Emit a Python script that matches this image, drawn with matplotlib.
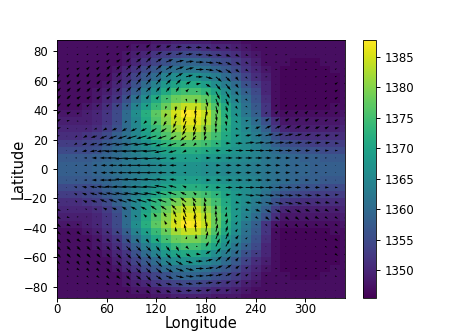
import numpy as np
import matplotlib
matplotlib.use('Agg')
import matplotlib.pyplot as plt

lon = np.arange(0, 360, 12)
lat_north = np.arange(2.5, 90, 5)

# temperature, northern half (rows go from equator to pole)
T_north = [
    [1358,1358,1358,1358,1359, 1360,1361,1362,1363,1364, 1365,1366,1367,1367,1367, 1366,1366,1365,1365,1364, 1363,1362,1361,1360,1359, 1359,1358,1358,1358,1358],
    [1357,1357,1357,1357,1358, 1359,1360,1362,1363,1365, 1366,1368,1369,1369,1369, 1368,1368,1367,1366,1365, 1364,1362,1361,1360,1359, 1358,1358,1357,1357,1357],
    [1355,1355,1355,1355,1356, 1358,1360,1362,1364,1366, 1368,1370,1371,1372,1372, 1371,1370,1369,1367,1366, 1364,1362,1360,1358,1357, 1356,1356,1355,1355,1355],
    [1353,1353,1353,1354,1355, 1357,1359,1361,1364,1367, 1370,1373,1375,1376,1376, 1375,1373,1370,1368,1366, 1364,1361,1358,1356,1355, 1354,1353,1353,1353,1353],
    [1351,1351,1351,1352,1353, 1355,1358,1361,1365,1369, 1373,1376,1379,1381,1380, 1378,1375,1371,1368,1366, 1363,1360,1356,1353,1352, 1351,1351,1351,1351,1351],
    [1350,1350,1350,1350,1351, 1353,1356,1360,1365,1370, 1374,1378,1382,1384,1384, 1381,1377,1372,1368,1365, 1362,1358,1353,1350,1349, 1349,1349,1349,1349,1350],
    [1349,1349,1349,1349,1350, 1352,1355,1360,1365,1371, 1376,1380,1384,1386,1386, 1383,1378,1373,1368,1364, 1360,1356,1351,1348,1348, 1348,1348,1348,1348,1349],
    [1348,1348,1348,1349,1350, 1352,1355,1360,1366,1372, 1377,1381,1385,1388,1387, 1384,1378,1372,1367,1362, 1358,1352,1348,1347,1347, 1347,1347,1347,1347,1348],
    [1347,1347,1347,1348,1349, 1351,1354,1358,1364,1369, 1374,1378,1382,1384,1384, 1381,1376,1371,1366,1361, 1357,1352,1347,1346,1346, 1346,1346,1346,1347,1347],
    [1347,1347,1347,1347,1348, 1350,1352,1356,1361,1366, 1371,1375,1378,1379,1379, 1377,1373,1368,1364,1360, 1356,1351,1347,1346,1346, 1346,1346,1346,1346,1347],
    [1347,1347,1347,1347,1348, 1349,1351,1354,1358,1363, 1367,1371,1374,1375,1375, 1373,1370,1366,1362,1358, 1355,1350,1347,1346,1346, 1346,1346,1346,1346,1347],
    [1347,1347,1347,1347,1347, 1348,1350,1352,1356,1360, 1364,1368,1370,1371,1371, 1369,1366,1363,1360,1356, 1353,1350,1347,1346,1346, 1346,1346,1346,1346,1347],
    [1347,1347,1347,1347,1347, 1347,1349,1351,1354,1357, 1360,1364,1366,1367,1367, 1365,1363,1360,1357,1354, 1351,1349,1347,1346,1346, 1346,1346,1346,1346,1347],
    [1347,1347,1347,1347,1347, 1347,1348,1350,1352,1355, 1357,1360,1361,1362,1362, 1361,1359,1357,1355,1352, 1350,1348,1347,1346,1346, 1346,1346,1346,1347,1347],
    [1347,1347,1347,1347,1347, 1347,1347,1348,1350,1352, 1354,1356,1358,1359,1359, 1358,1356,1355,1353,1351, 1349,1347,1347,1347,1346, 1346,1346,1347,1347,1347],
    [1347,1347,1347,1347,1347, 1347,1347,1348,1349,1350, 1352,1353,1354,1355,1355, 1354,1353,1352,1351,1349, 1348,1347,1347,1347,1347, 1347,1347,1347,1347,1347],
    [1347,1347,1347,1347,1347, 1347,1347,1347,1348,1348, 1349,1350,1351,1352,1352, 1351,1350,1350,1349,1348, 1347,1347,1347,1347,1347, 1347,1347,1347,1347,1347],
    [1347,1347,1347,1347,1347, 1347,1347,1347,1347,1347, 1348,1348,1349,1349,1349, 1349,1348,1348,1348,1347, 1347,1347,1347,1347,1347, 1347,1347,1347,1347,1347],
]

# wind, arrow lengths in pixels
u_north = [
    [0,-1,-2,-3,-4, -6,-8,-9,-10,-11, -11,-9,-7,-3,1, 3,5,6,6,6, 6,6,5,5,4, 3,3,2,1,1],
    [0,-1,-2,-3,-5, -7,-10,-12,-13,-14, -13,-11,-7,-2,2, 5,6,7,7,7, 7,6,6,5,4, 4,3,2,1,1],
    [1,-1,-3,-5,-7, -10,-12,-14,-15,-15, -14,-12,-8,-4,0, 3,5,7,8,9, 9,8,8,7,6, 5,5,4,3,2],
    [2,0,-3,-5,-7, -9,-11,-12,-13,-13, -13,-11,-9,-6,-3, 0,3,5,7,9, 9,9,9,8,7, 7,6,5,4,3],
    [3,0,-2,-4,-6, -7,-8,-9,-10,-10, -10,-9,-7,-6,-4, -2,0,2,4,6, 7,8,8,8,7, 6,6,5,4,3],
    [4,2,0,-2,-3, -4,-5,-5,-6,-6, -6,-6,-5,-4,-3, -2,0,1,3,4, 5,6,6,6,6, 5,5,4,4,4],
    [4,3,2,0,-1, -1,-1,-2,-2,-3, -3,-3,-3,-3,-3, -2,0,1,2,3, 3,4,4,4,4, 4,4,3,3,4],
    [4,4,3,2,2, 2,1,1,0,-1, -1,-2,-2,-3,-2, -1,1,2,2,2, 2,2,3,3,3, 3,3,3,3,4],
    [4,4,4,3,3, 3,3,2,2,2, 1,-1,-1,-2,-1, 1,2,2,2,2, 1,1,2,2,2, 2,2,2,3,4],
    [4,4,4,4,4, 4,4,4,3,3, 3,2,1,1,0, 2,3,3,3,2, 1,1,1,1,1, 1,1,2,3,4],
    [4,4,4,4,4, 4,4,5,5,5, 4,4,3,3,2, 3,4,4,3,2, 1,1,1,1,1, 1,1,2,3,4],
    [4,4,4,4,4, 4,5,5,5,5, 5,5,5,5,5, 5,5,5,3,2, 2,1,1,1,1, 1,1,2,3,3],
    [3,3,3,3,4, 4,5,5,5,5, 6,6,7,7,7, 7,6,5,3,2, 2,2,1,1,1, 1,2,2,2,3],
    [2,2,3,3,3, 4,4,5,5,5, 6,7,8,8,8, 8,7,6,4,3, 2,2,2,2,2, 2,2,2,2,2],
    [2,2,2,2,3, 3,4,4,5,5, 6,7,8,8,8, 8,7,6,5,3, 2,2,2,2,2, 2,2,2,2,2],
    [1,1,2,2,2, 3,3,4,4,5, 6,6,7,7,7, 7,6,5,4,3, 2,2,2,2,1, 1,1,1,1,1],
    [1,1,1,1,1, 2,2,3,3,4, 5,5,6,6,6, 5,5,4,3,2, 2,2,1,1,1, 1,1,1,1,1],
    [1,1,1,1,1, 1,1,2,2,3, 3,3,3,3,3, 3,3,2,2,1, 1,1,1,1,1, 1,1,1,1,1],
]
v_north = [
    [0,0,0,0,0, 0,0,0,0,0, 0,0,0,0,0, 0,0,0,0,0, 0,0,0,0,0, 0,0,0,0,0],
    [0,0,0,0,0, 0,0,-1,-1,-1, -1,-1,-1,-1,-1, 0,0,0,0,0, 0,0,0,0,0, 0,0,0,0,0],
    [0,0,-1,-1,-1, -1,-1,-1,-1,-1, -1,-2,-2,-2,-2, -1,0,0,0,0, 0,0,0,0,0, 0,0,0,0,0],
    [0,-1,-2,-2,-2, -2,-2,-2,-2,-2, -2,-3,-3,-3,-3, -3,-1,0,0,1, 1,1,1,1,1, 1,1,1,0,0],
    [0,-1,-2,-2,-2, -3,-3,-3,-3,-3, -3,-3,-4,-5,-5, -5,-2,0,1,1, 1,2,2,2,2, 2,1,1,1,0],
    [1,0,-1,-1,-1, -2,-2,-3,-3,-3, -4,-4,-5,-7,-8, -8,-5,-3,-1,1, 2,3,3,3,3, 2,2,2,1,1],
    [2,1,0,0,0, -1,-1,-2,-2,-3, -4,-5,-7,-9,-10, -10,-7,-5,-2,1, 2,3,3,3,3, 3,2,2,2,2],
    [3,2,1,1,1, 1,0,0,0,0, -1,-4,-6,-9,-10, -10,-8,-6,-3,0, 1,2,3,3,3, 3,2,2,2,2],
    [3,3,3,2,2, 2,2,2,2,2, 1,-3,-5,-8,-9, -10,-8,-6,-3,-1, 1,1,2,2,2, 2,2,2,2,3],
    [4,4,3,3,3, 3,3,4,4,4, 3,1,0,-3,-5, -8,-8,-7,-4,-2, 0,0,1,1,1, 1,1,2,2,3],
    [4,4,4,4,4, 4,4,5,5,5, 5,5,5,3,0, -5,-8,-7,-4,-2, 0,0,0,0,0, 0,1,1,2,3],
    [4,4,4,4,4, 4,5,5,6,6, 6,5,5,3,1, -3,-6,-6,-4,-2, -1,0,0,0,0, 0,0,1,2,3],
    [3,3,4,4,4, 4,5,5,6,6, 6,5,4,2,0, -2,-5,-5,-4,-2, -1,0,0,0,0, 0,0,1,1,2],
    [2,2,2,3,3, 4,4,5,5,5, 5,4,3,2,0, -1,-3,-4,-3,-2, -1,-1,0,0,0, 0,0,0,1,2],
    [1,1,1,2,2, 3,3,4,4,5, 4,3,2,1,0, -1,-2,-3,-3,-2, -1,-1,0,0,0, 0,0,0,1,1],
    [1,1,1,1,1, 2,2,3,3,4, 3,2,2,1,0, -1,-1,-2,-2,-1, -1,0,0,0,0, 0,0,0,0,1],
    [0,0,0,1,1, 1,1,2,2,3, 2,2,1,0,0, -1,-1,-1,-1,-1, 0,0,0,0,0, 0,0,0,0,0],
    [0,0,0,0,0, 0,1,1,1,1, 1,0,0,0,0, 0,0,0,0,0, 0,0,0,0,0, 0,0,0,0,0],
]

xticks = [0, 60, 120, 180, 240, 300]
yticks = [-80, -60, -40, -20, 0, 20, 40, 60, 80]
cbar_ticks = [1350, 1355, 1360, 1365, 1370, 1375, 1380, 1385]

# the two halves mirror each other about the equator
lat = np.concatenate((-lat_north[::-1], lat_north))
T = np.array(T_north, dtype=float)
T = np.vstack((T[::-1], T))
u = np.array(u_north, dtype=float)
u = np.vstack((u[::-1], u))
v = np.array(v_north, dtype=float)
v = np.vstack((-v[::-1], v))

fig = plt.figure(figsize=(4.63, 3.35), dpi=100)
ax = fig.add_axes([57/463, 1-298/335, 288/463, 258/335])
cax = fig.add_axes([363/463, 1-298/335, 13/463, 258/335])

pc = ax.pcolormesh(lon, lat, T, cmap='viridis', vmin=1345.4, vmax=1387.8,
                   shading='nearest', antialiased=True, linewidth=0)
ax.quiver(lon, lat, u, v, scale=100, scale_units='inches', units='inches', width=0.009)
ax.set_xlim(0, 348)
ax.set_ylim(-87.5, 87.5)
ax.set_xticks(xticks)
ax.set_yticks(yticks)
ax.tick_params(labelsize=8.5, width=0.7, length=3)
ax.tick_params(axis='x', pad=0.8)
ax.set_xlabel('Longitude', fontsize=10.5)
ax.set_ylabel('Latitude', fontsize=10.5)
ax.xaxis.set_label_coords(0.5, -0.07)
ax.yaxis.set_label_coords(-0.108, 0.5)
for s in ax.spines.values():
    s.set_linewidth(0.6)

cb = fig.colorbar(pc, cax=cax)
cb.set_ticks(cbar_ticks)
cb.ax.tick_params(labelsize=8.5, width=0.7, length=3)
cb.outline.set_linewidth(0.6)

fig.savefig('out.png', dpi=100)
